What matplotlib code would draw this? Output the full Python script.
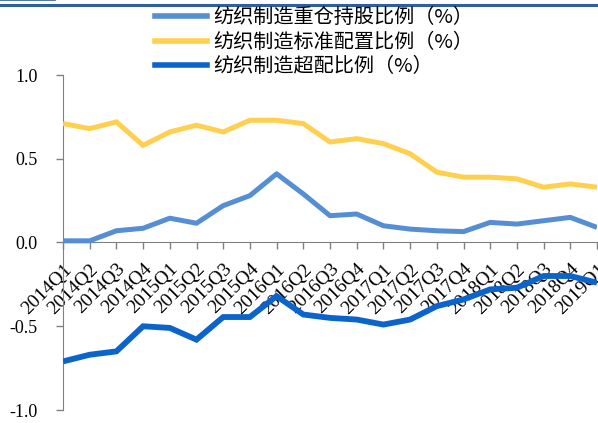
import matplotlib
matplotlib.use('Agg')
from matplotlib import pyplot
from matplotlib.lines import Line2D

quarters = ['2014Q1', '2014Q2', '2014Q3', '2014Q4',
            '2015Q1', '2015Q2', '2015Q3', '2015Q4',
            '2016Q1', '2016Q2', '2016Q3', '2016Q4',
            '2017Q1', '2017Q2', '2017Q3', '2017Q4',
            '2018Q1', '2018Q2', '2018Q3', '2018Q4',
            '2019Q1']
heavy = [0.01, 0.01, 0.07, 0.085, 0.145, 0.115, 0.22, 0.28, 0.41, 0.29,
         0.16, 0.17, 0.10, 0.08, 0.07, 0.065, 0.12, 0.11, 0.13, 0.15, 0.09]
standard = [0.71, 0.68, 0.72, 0.58, 0.66, 0.70, 0.66, 0.73, 0.73, 0.71,
            0.60, 0.62, 0.59, 0.53, 0.42, 0.39, 0.39, 0.38, 0.33, 0.35, 0.33]
over = [-0.71, -0.67, -0.65, -0.50, -0.51, -0.58, -0.445, -0.445, -0.32, -0.43,
        -0.45, -0.46, -0.49, -0.46, -0.38, -0.34, -0.28, -0.27, -0.20, -0.20, -0.24]
labels = ['纺织制造重仓持股比例（%）',
          '纺织制造标准配置比例（%）',
          '纺织制造超配比例（%）']
colors = ['#558ED5', '#FFD04F', '#0B64CC']

serif = ['Liberation Serif', 'DejaVu Serif']
cjk = ['Noto Sans CJK SC', 'DejaVu Sans']

fig = pyplot.figure(figsize=(5.98, 4.23), dpi=100)
ax = fig.add_axes([63/598, 13/423, 534/598, 335/423])

x = range(len(quarters))
ax.plot(x, heavy, color=colors[0], linewidth=3.6, solid_joinstyle='round',
        solid_capstyle='butt', zorder=3)
ax.plot(x, standard, color=colors[1], linewidth=3.6, solid_joinstyle='miter',
        solid_capstyle='butt', zorder=3)
ax.plot(x, over, color=colors[2], linewidth=4.2, solid_joinstyle='miter',
        solid_capstyle='butt', zorder=3)

ax.set_xlim(0, len(quarters) - 1)
ax.set_ylim(-1.0, 1.0)
ax.set_yticks([-1.0, -0.5, 0.0, 0.5, 1.0])
ax.set_yticklabels(['-1.0', '-0.5', '0.0', '0.5', '1.0'])
ax.set_xticks(list(x))
ax.set_xticklabels(quarters)

for side in ['top', 'right']:
    ax.spines[side].set_visible(False)
ax.spines['bottom'].set_position(('data', 0.0))
ax.spines['left'].set_color('#808080')
ax.spines['bottom'].set_color('#808080')
ax.tick_params(axis='y', direction='out', length=5, width=1,
               color='#808080', pad=13)
ax.tick_params(axis='x', direction='out', length=5, width=1,
               color='#808080', pad=8)

for lab in ax.get_yticklabels():
    lab.set_fontfamily(serif)
    lab.set_fontsize(13)
for lab in ax.get_xticklabels():
    lab.set_fontfamily(serif)
    lab.set_fontsize(14)
    lab.set_rotation(45)
    lab.set_horizontalalignment('right')
    lab.set_verticalalignment('top')
    lab.set_rotation_mode('anchor')

handles = [Line2D([], [], color=c, linewidth=4) for c in colors]
fig.legend(handles, labels, loc='upper left',
           bbox_to_anchor=(155/598, 1 - 7/423),
           frameon=False, prop={'family': cjk, 'size': 14.5},
           handlelength=2.6, handletextpad=0.3, labelspacing=0.18,
           borderaxespad=0, borderpad=0)

# header decoration
fig.add_artist(Line2D([0, 1], [1 - 5.3/423, 1 - 5.3/423], transform=fig.transFigure,
                      color='#2F5F9E', linewidth=2.2))
fig.add_artist(Line2D([0, 55/598], [1 - 0.5/423, 1 - 0.5/423], transform=fig.transFigure,
                      color='#2F5F9E', linewidth=1.2))

fig.savefig('out.png', dpi=100)
